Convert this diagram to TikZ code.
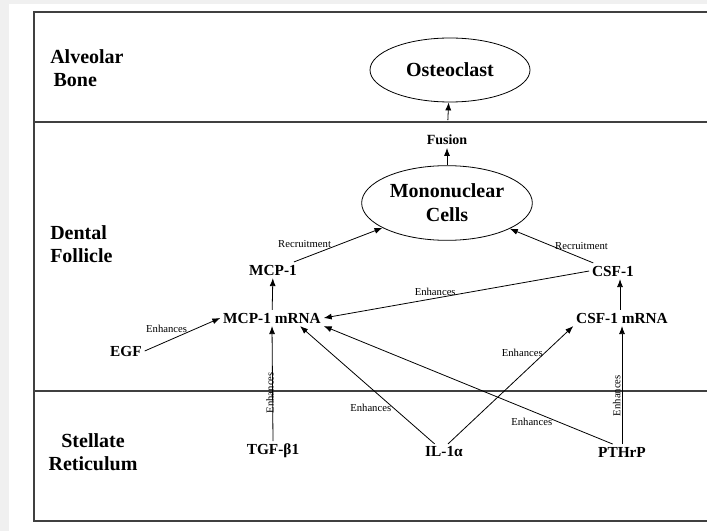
\documentclass[tikz,border=0pt]{standalone}
\usepackage{fontspec}
\setmainfont{Liberation Serif}
\usetikzlibrary{arrows.meta,shapes.geometric}

\begin{document}
\begin{tikzpicture}[x=0.75pt,y=-0.75pt,
  zone/.style={font=\fontsize{15}{17}\selectfont\bfseries, align=left, inner sep=0pt},
  cellshape/.style={ellipse, draw, line width=0.6pt, font=\fontsize{15}{18}\selectfont\bfseries, align=center, inner sep=0pt},
  mol/.style={font=\fontsize{11.5}{13}\selectfont\bfseries, inner sep=2pt},
  lbl/.style={font=\fontsize{8}{9}\selectfont, inner sep=1pt},
  link/.style={-{Latex[length=6pt,width=4.5pt]}, line width=0.6pt},
  layerline/.style={line width=1pt, draw=black!75}]
% page and frame
\fill[black!6] (0,0) rectangle (707,531);
\fill[white] (9,4) rectangle (707,531);
\useasboundingbox (0,0) rectangle (707,531);
\draw[layerline] (707,12) -- (34,12) -- (34,521) -- (707,521);
\draw[layerline] (34,122) -- (707,122);
\draw[layerline] (34,391) -- (707,391);
% tissue layers
\node[zone, anchor=west] (bone) at (50,68) {Alveolar\\\,Bone};
\node[zone, anchor=west] (follicle) at (50,244) {Dental\\Follicle};
\node[zone, align=center] (reticulum) at (93,452) {Stellate\\Reticulum};
% cells
\node[cellshape, minimum width=120pt, minimum height=48pt] (osteo) at (450,70) {Osteoclast};
\node[cellshape, minimum width=128pt, minimum height=56pt] (cells) at (447,203) {Mononuclear\\Cells};
\node[mol, font=\fontsize{10.5}{12}\selectfont\bfseries] (fusion) at (447,140) {Fusion};
% factors
\node[mol] (mcp) at (273,270) {MCP-1};
\node[mol] (mcpm) at (272,318) {MCP-1 mRNA};
\node[mol] (csf) at (613,271) {CSF-1};
\node[mol] (csfm) at (622,318) {CSF-1 mRNA};
\node[mol] (egf) at (126,351) {EGF};
\node[mol] (tgf) at (273,451) {TGF-β1};
\node[mol] (il) at (444,452) {IL-1α};
\node[mol] (pthrp) at (622,452) {PTHrP};
% arrows
\draw[link] (cells) -- (fusion);
\draw[link, shorten <=9pt] (fusion) -- (osteo);
\draw[link] (mcp) -- (cells) node[lbl, pos=.12, above=6pt] {Recruitment};
\draw[link] (csf) -- (cells) node[lbl, pos=.14, above=5pt] {Recruitment};
\draw[link] (mcpm) -- (mcp);
\draw[link] (csfm.north -| 620,0) -- (csf.south -| 620,0);
\draw[link] (csf.west) -- (mcpm.east) node[lbl, pos=.58, above=1pt] {Enhances};
\draw[link] (egf.east) -- (mcpm.west) node[lbl, pos=.29, above=5pt] {Enhances};
\draw[link] (tgf.north) -- (mcpm.south) node[lbl, pos=.42, rotate=90, xshift=0pt, yshift=2pt] {Enhances};
\draw[link] (pthrp.north) -- (csfm.south) node[lbl, pos=.41, rotate=90, yshift=4pt] {Enhances};
\draw[link] ([xshift=-7pt]il.north) -- ([xshift=21pt]mcpm.south) node[lbl, pos=.31, left] {Enhances};
\draw[link] ([xshift=3pt]il.north) -- (csfm.south west) node[lbl, pos=.77, left] {Enhances};
\draw[link] ([xshift=-7pt]pthrp.north) -- (mcpm.south east) node[lbl, pos=.28, below=4pt] {Enhances};
\end{tikzpicture}
\end{document}
